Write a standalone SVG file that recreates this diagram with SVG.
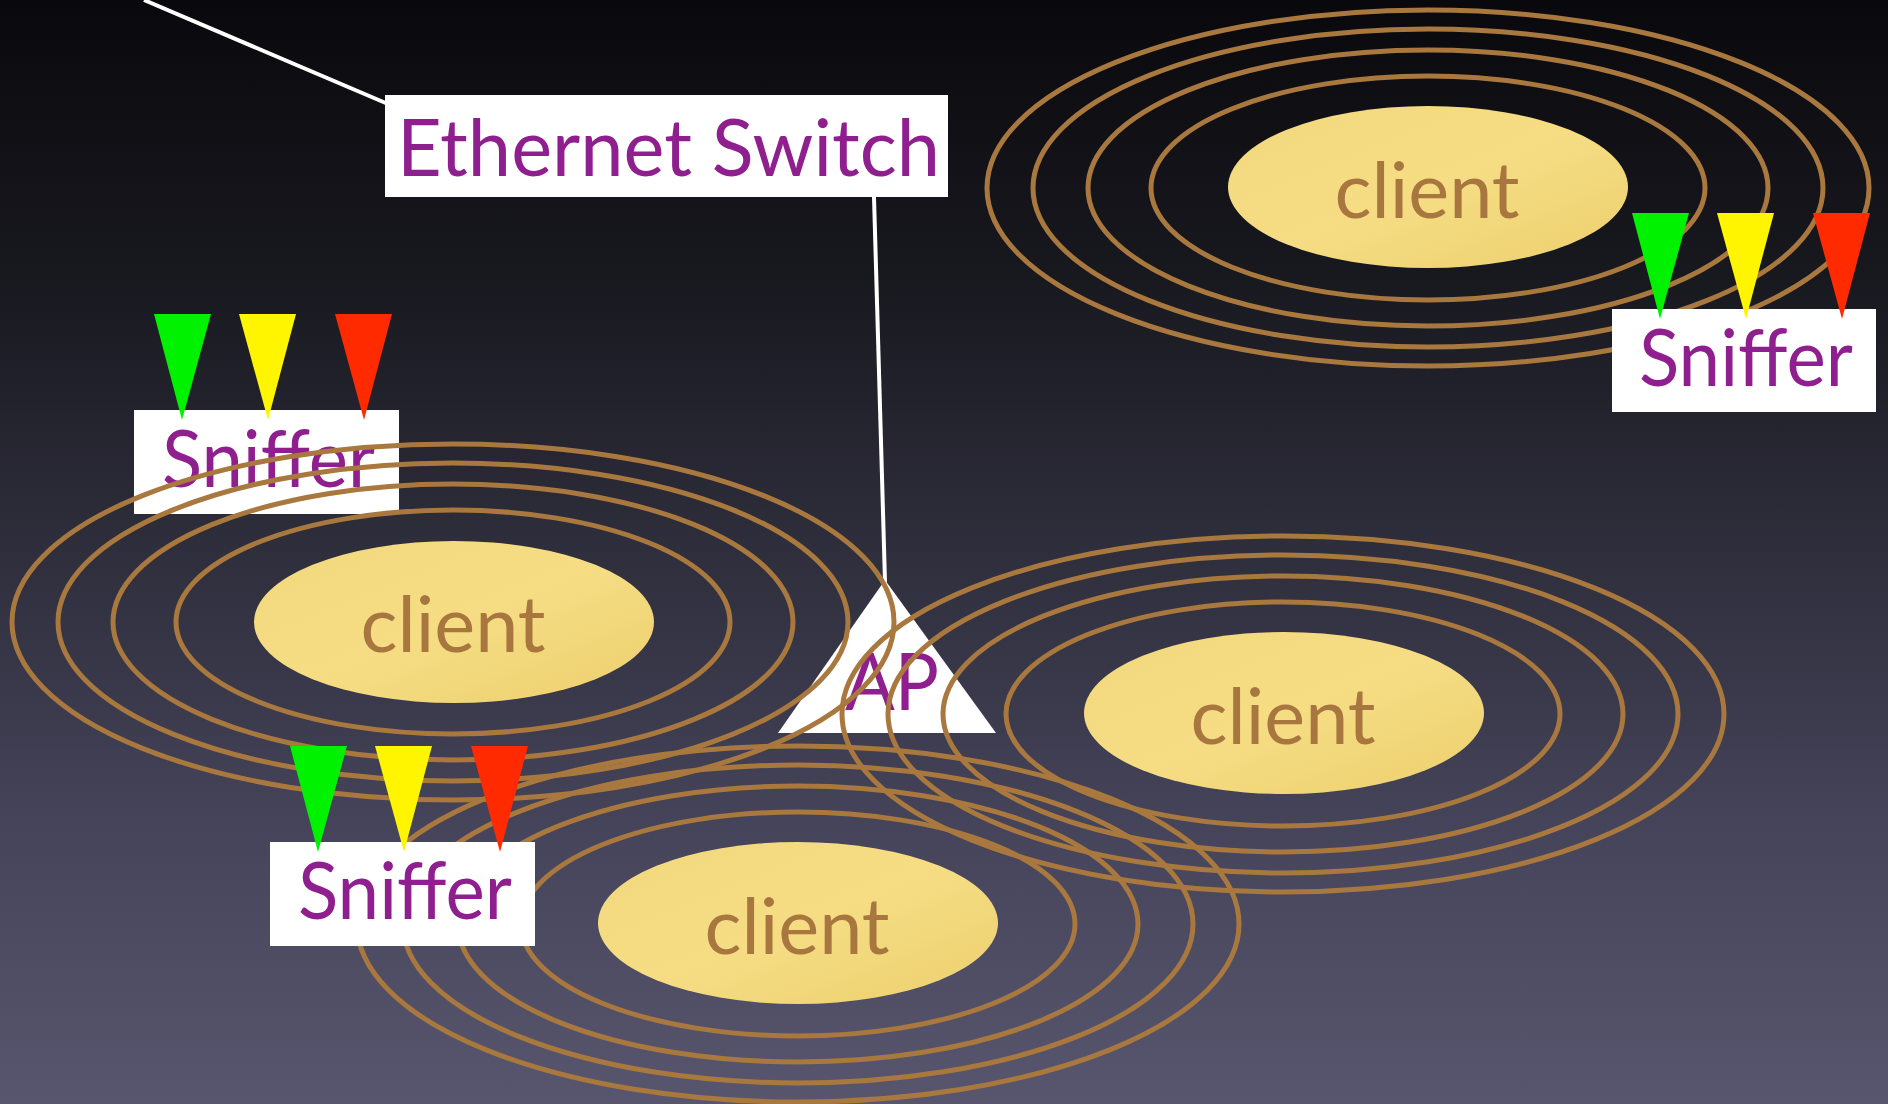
<svg xmlns="http://www.w3.org/2000/svg" xmlns:xlink="http://www.w3.org/1999/xlink" width="1888" height="1104" viewBox="0 0 1888 1104">
<defs>
<linearGradient id="bg" x1="0" y1="0" x2="0" y2="1">
<stop offset="0" stop-color="#09090d"/>
<stop offset="0.25" stop-color="#18181f"/>
<stop offset="0.5" stop-color="#2f2e3c"/>
<stop offset="0.75" stop-color="#45445a"/>
<stop offset="1" stop-color="#58566e"/>
</linearGradient>
<linearGradient id="cl" x1="0" y1="0" x2="1" y2="1">
<stop offset="0" stop-color="#f2d77c"/>
<stop offset="0.5" stop-color="#f6dd84"/>
<stop offset="1" stop-color="#eccf6e"/>
</linearGradient>
<g id="rings">
<ellipse cx="0" cy="0" rx="441" ry="178"/>
<ellipse cx="0" cy="0" rx="395" ry="159"/>
<ellipse cx="0" cy="0" rx="340" ry="138"/>
<ellipse cx="0" cy="0" rx="277" ry="112"/>
</g>
<g id="tris">
<polygon points="20,-96 77,-96 48,10" fill="#00f200"/>
<polygon points="105,-96 162,-96 134,10" fill="#fff500"/>
<polygon points="201,-96 258,-96 230,10" fill="#ff2a00"/>
</g>
</defs>
<style>
.ring { fill: none; stroke: #a8783e; stroke-width: 5; }
.cell { fill: url(#cl); }
.ctext { font-family: "Lato", "Open Sans", sans-serif; font-size: 78px; fill: #a8773f; text-anchor: middle; }
.label { font-family: "Lato", "Open Sans", sans-serif; font-size: 80px; fill: #8f1f8f; }
.box { fill: #ffffff; }
.wire { stroke: #ffffff; stroke-width: 4; fill: none; }
</style>
<rect x="0" y="0" width="1888" height="1104" fill="url(#bg)"/>
<g id="connectors">
<line class="wire" x1="144" y1="0" x2="388" y2="104"/>
<line class="wire" x1="874" y1="197" x2="885" y2="582"/>
</g>
<g id="ap">
<polygon points="885,580 778,733 996,733" fill="#ffffff"/>
<text class="label" x="892" y="710" text-anchor="middle" textLength="94" lengthAdjust="spacingAndGlyphs">AP</text>
</g>
<g id="ethernet-switch">
<rect class="box" x="385" y="95" width="563" height="102"/>
<text class="label" x="397" y="176" textLength="543" lengthAdjust="spacingAndGlyphs">Ethernet Switch</text>
</g>
<g id="sniffer-left">
<rect class="box" x="134" y="410" width="265" height="104"/>
<use xlink:href="#tris" transform="translate(134,410)"/>
<text class="label" x="162" y="487" textLength="213" lengthAdjust="spacingAndGlyphs">Sniffer</text>
</g>
<g id="client-top">
<use xlink:href="#rings" class="ring" transform="translate(1428,188)"/>
<ellipse class="cell" cx="1428" cy="187" rx="200" ry="81"/>
<text class="ctext" x="1427" y="218" textLength="185" lengthAdjust="spacingAndGlyphs">client</text>
</g>
<g id="client-left">
<use xlink:href="#rings" class="ring" transform="translate(453,622)"/>
<ellipse class="cell" cx="454" cy="622" rx="200" ry="81"/>
<text class="ctext" x="453" y="652" textLength="185" lengthAdjust="spacingAndGlyphs">client</text>
</g>
<g id="client-right">
<use xlink:href="#rings" class="ring" transform="translate(1283,714)"/>
<ellipse class="cell" cx="1284" cy="713" rx="200" ry="81"/>
<text class="ctext" x="1283" y="744" textLength="185" lengthAdjust="spacingAndGlyphs">client</text>
</g>
<g id="client-bottom">
<use xlink:href="#rings" class="ring" transform="translate(798,924)"/>
<ellipse class="cell" cx="798" cy="923" rx="200" ry="81"/>
<text class="ctext" x="797" y="954" textLength="185" lengthAdjust="spacingAndGlyphs">client</text>
</g>
<g id="sniffer-top">
<rect class="box" x="1612" y="309" width="264" height="103"/>
<use xlink:href="#tris" transform="translate(1612,309)"/>
<text class="label" x="1639" y="386" textLength="214" lengthAdjust="spacingAndGlyphs">Sniffer</text>
</g>
<g id="sniffer-bottom">
<rect class="box" x="270" y="842" width="265" height="104"/>
<use xlink:href="#tris" transform="translate(270,842)"/>
<text class="label" x="298" y="919" textLength="214" lengthAdjust="spacingAndGlyphs">Sniffer</text>
</g>
</svg>
